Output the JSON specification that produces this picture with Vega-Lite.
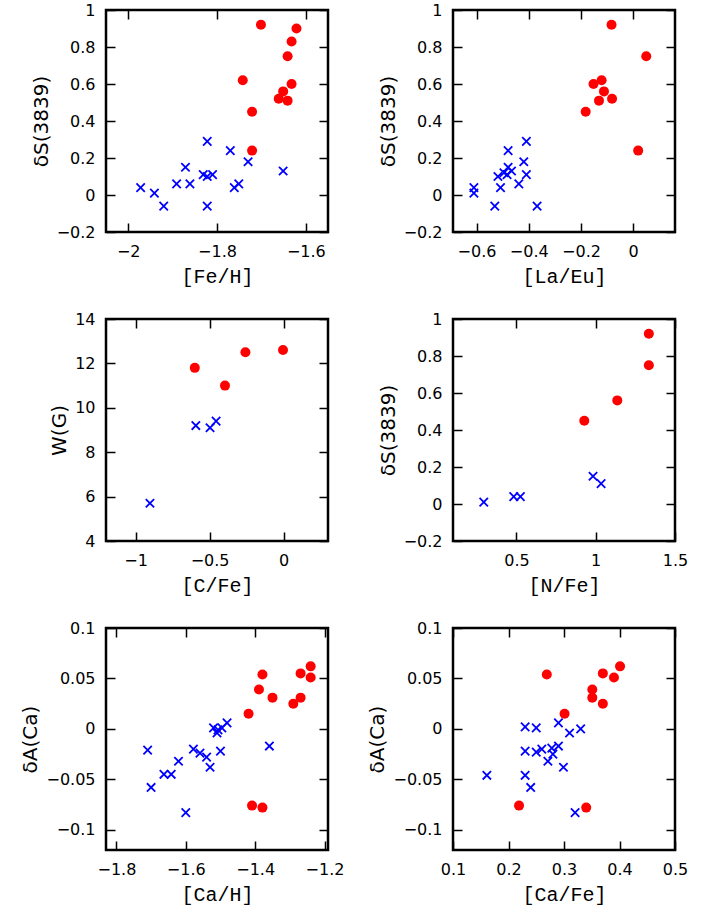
{
  "$schema": "https://vega.github.io/schema/vega-lite/v6.json",
  "background": "white",
  "padding": {"left": 19, "top": 0, "right": 5, "bottom": 2},
  "config": {
    "view": {"stroke": "black", "strokeWidth": 2.5},
    "axis": {
      "domain": false,
      "ticks": false,
      "grid": true,
      "gridColor": "black",
      "gridOpacity": 1,
      "gridWidth": 1.5,
      "labelFont": "DejaVu Sans",
      "labelFontSize": 16,
      "labelColor": "black",
      "labelFlush": false,
      "labelOverlap": false,
      "labelPadding": 11,
      "format": "~g",
      "titleColor": "black",
      "titleFontWeight": "normal",
      "titleFontSize": 20
    },
    "axisX": {"titleFont": "Liberation Mono", "titlePadding": 7},
    "axisY": {"titleFont": "DejaVu Sans", "titlePadding": 5}
  },
  "datasets": {
    "p1": [
      {"x": -1.701, "y": 0.92, "g": "r"}, {"x": -1.621, "y": 0.90, "g": "r"},
      {"x": -1.632, "y": 0.83, "g": "r"}, {"x": -1.641, "y": 0.75, "g": "r"},
      {"x": -1.632, "y": 0.60, "g": "r"}, {"x": -1.742, "y": 0.62, "g": "r"},
      {"x": -1.651, "y": 0.56, "g": "r"}, {"x": -1.661, "y": 0.52, "g": "r"},
      {"x": -1.641, "y": 0.51, "g": "r"}, {"x": -1.721, "y": 0.45, "g": "r"},
      {"x": -1.721, "y": 0.24, "g": "r"},
      {"x": -1.972, "y": 0.04, "g": "b"}, {"x": -1.941, "y": 0.01, "g": "b"},
      {"x": -1.920, "y": -0.06, "g": "b"}, {"x": -1.891, "y": 0.06, "g": "b"},
      {"x": -1.871, "y": 0.15, "g": "b"}, {"x": -1.861, "y": 0.06, "g": "b"},
      {"x": -1.831, "y": 0.11, "g": "b"}, {"x": -1.822, "y": 0.29, "g": "b"},
      {"x": -1.822, "y": 0.10, "g": "b"}, {"x": -1.810, "y": 0.11, "g": "b"},
      {"x": -1.822, "y": -0.06, "g": "b"}, {"x": -1.770, "y": 0.24, "g": "b"},
      {"x": -1.761, "y": 0.04, "g": "b"}, {"x": -1.751, "y": 0.06, "g": "b"},
      {"x": -1.730, "y": 0.18, "g": "b"}, {"x": -1.651, "y": 0.13, "g": "b"}
    ],
    "p2": [
      {"x": -0.083, "y": 0.92, "g": "r"}, {"x": 0.050, "y": 0.75, "g": "r"},
      {"x": -0.152, "y": 0.60, "g": "r"}, {"x": -0.121, "y": 0.62, "g": "r"},
      {"x": -0.112, "y": 0.56, "g": "r"}, {"x": -0.131, "y": 0.51, "g": "r"},
      {"x": -0.081, "y": 0.52, "g": "r"}, {"x": -0.182, "y": 0.45, "g": "r"},
      {"x": 0.019, "y": 0.24, "g": "r"},
      {"x": -0.610, "y": 0.04, "g": "b"}, {"x": -0.610, "y": 0.01, "g": "b"},
      {"x": -0.530, "y": -0.06, "g": "b"}, {"x": -0.518, "y": 0.10, "g": "b"},
      {"x": -0.508, "y": 0.04, "g": "b"}, {"x": -0.495, "y": 0.12, "g": "b"},
      {"x": -0.483, "y": 0.11, "g": "b"}, {"x": -0.479, "y": 0.24, "g": "b"},
      {"x": -0.479, "y": 0.15, "g": "b"}, {"x": -0.466, "y": 0.13, "g": "b"},
      {"x": -0.438, "y": 0.06, "g": "b"}, {"x": -0.419, "y": 0.18, "g": "b"},
      {"x": -0.409, "y": 0.29, "g": "b"}, {"x": -0.409, "y": 0.11, "g": "b"},
      {"x": -0.368, "y": -0.06, "g": "b"}
    ],
    "p3": [
      {"x": -0.600, "y": 11.8, "g": "r"}, {"x": -0.396, "y": 11.0, "g": "r"},
      {"x": -0.258, "y": 12.5, "g": "r"}, {"x": -0.004, "y": 12.6, "g": "r"},
      {"x": -0.903, "y": 5.7, "g": "b"}, {"x": -0.593, "y": 9.2, "g": "b"},
      {"x": -0.497, "y": 9.1, "g": "b"}, {"x": -0.456, "y": 9.4, "g": "b"}
    ],
    "p4": [
      {"x": 1.335, "y": 0.92, "g": "r"}, {"x": 1.335, "y": 0.75, "g": "r"},
      {"x": 1.136, "y": 0.56, "g": "r"}, {"x": 0.928, "y": 0.45, "g": "r"},
      {"x": 0.294, "y": 0.01, "g": "b"}, {"x": 0.483, "y": 0.04, "g": "b"},
      {"x": 0.525, "y": 0.04, "g": "b"}, {"x": 0.983, "y": 0.15, "g": "b"},
      {"x": 1.034, "y": 0.11, "g": "b"}
    ],
    "p5": [
      {"x": -1.419, "y": 0.015, "g": "r"}, {"x": -1.389, "y": 0.039, "g": "r"},
      {"x": -1.379, "y": 0.054, "g": "r"}, {"x": -1.350, "y": 0.031, "g": "r"},
      {"x": -1.290, "y": 0.025, "g": "r"}, {"x": -1.269, "y": 0.031, "g": "r"},
      {"x": -1.269, "y": 0.055, "g": "r"}, {"x": -1.240, "y": 0.062, "g": "r"},
      {"x": -1.240, "y": 0.051, "g": "r"}, {"x": -1.409, "y": -0.076, "g": "r"},
      {"x": -1.379, "y": -0.078, "g": "r"},
      {"x": -1.710, "y": -0.021, "g": "b"}, {"x": -1.700, "y": -0.058, "g": "b"},
      {"x": -1.663, "y": -0.045, "g": "b"}, {"x": -1.642, "y": -0.045, "g": "b"},
      {"x": -1.621, "y": -0.032, "g": "b"}, {"x": -1.600, "y": -0.083, "g": "b"},
      {"x": -1.578, "y": -0.020, "g": "b"}, {"x": -1.559, "y": -0.024, "g": "b"},
      {"x": -1.540, "y": -0.028, "g": "b"}, {"x": -1.530, "y": -0.038, "g": "b"},
      {"x": -1.520, "y": 0.001, "g": "b"}, {"x": -1.507, "y": -0.001, "g": "b"},
      {"x": -1.496, "y": 0.001, "g": "b"}, {"x": -1.481, "y": 0.006, "g": "b"},
      {"x": -1.510, "y": -0.004, "g": "b"}, {"x": -1.500, "y": -0.022, "g": "b"},
      {"x": -1.359, "y": -0.017, "g": "b"}
    ],
    "p6": [
      {"x": 0.269, "y": 0.054, "g": "r"}, {"x": 0.301, "y": 0.015, "g": "r"},
      {"x": 0.351, "y": 0.039, "g": "r"}, {"x": 0.351, "y": 0.031, "g": "r"},
      {"x": 0.370, "y": 0.055, "g": "r"}, {"x": 0.390, "y": 0.051, "g": "r"},
      {"x": 0.401, "y": 0.062, "g": "r"}, {"x": 0.370, "y": 0.025, "g": "r"},
      {"x": 0.219, "y": -0.076, "g": "r"}, {"x": 0.340, "y": -0.078, "g": "r"},
      {"x": 0.230, "y": 0.002, "g": "b"}, {"x": 0.250, "y": 0.001, "g": "b"},
      {"x": 0.290, "y": 0.006, "g": "b"}, {"x": 0.310, "y": -0.004, "g": "b"},
      {"x": 0.330, "y": 0.000, "g": "b"}, {"x": 0.230, "y": -0.022, "g": "b"},
      {"x": 0.250, "y": -0.023, "g": "b"}, {"x": 0.260, "y": -0.020, "g": "b"},
      {"x": 0.278, "y": -0.019, "g": "b"}, {"x": 0.290, "y": -0.017, "g": "b"},
      {"x": 0.280, "y": -0.025, "g": "b"}, {"x": 0.271, "y": -0.032, "g": "b"},
      {"x": 0.299, "y": -0.038, "g": "b"}, {"x": 0.230, "y": -0.046, "g": "b"},
      {"x": 0.161, "y": -0.046, "g": "b"}, {"x": 0.240, "y": -0.058, "g": "b"},
      {"x": 0.320, "y": -0.083, "g": "b"}
    ]
  },
  "columns": 2,
  "spacing": {"row": 87, "column": 125},
  "bounds": "flush",
  "concat": [
    {
      "width": 222, "height": 222,
      "data": {"name": "p1"},
      "resolve": {"axis": {"x": "independent", "y": "independent"}},
      "layer": [
        {
          "transform": [{"filter": "datum.g == 'r'"}],
          "mark": {"type": "point", "shape": "circle", "filled": true, "color": "#ff0000", "size": 100, "opacity": 1},
          "encoding": {
            "x": {"field": "x", "type": "quantitative", "scale": {"domain": [-2.05, -1.55], "nice": false, "zero": false},
              "axis": {"orient": "bottom", "title": "[Fe/H]", "gridDash": [9, 204], "values": [-2, -1.8, -1.6]}},
            "y": {"field": "y", "type": "quantitative", "scale": {"domain": [-0.2, 1], "nice": false, "zero": false},
              "axis": {"orient": "left", "title": "δS(3839)", "gridDash": [9, 204], "values": [-0.2, 0, 0.2, 0.4, 0.6, 0.8, 1]}}
          }
        },
        {
          "transform": [{"filter": "datum.g == 'b'"}],
          "mark": {"type": "point", "shape": "M-1,-1L1,1M1,-1L-1,1", "filled": false, "color": "#0000ff", "size": 70, "strokeWidth": 1.8, "opacity": 1},
          "encoding": {
            "x": {"field": "x", "type": "quantitative",
              "axis": {"orient": "bottom", "title": null, "labels": false, "gridDash": [5, 212], "values": [-2.05, -1.95, -1.9, -1.85, -1.75, -1.7, -1.65, -1.55]}},
            "y": {"field": "y", "type": "quantitative",
              "axis": {"orient": "left", "title": null, "labels": false, "gridDash": [5, 212], "values": [-0.15, -0.1, -0.05, 0.05, 0.1, 0.15, 0.25, 0.3, 0.35, 0.45, 0.5, 0.55, 0.65, 0.7, 0.75, 0.85, 0.9, 0.95]}}
          }
        }
      ]
    },
    {
      "width": 222, "height": 222,
      "data": {"name": "p2"},
      "resolve": {"axis": {"x": "independent", "y": "independent"}},
      "layer": [
        {
          "transform": [{"filter": "datum.g == 'r'"}],
          "mark": {"type": "point", "shape": "circle", "filled": true, "color": "#ff0000", "size": 100, "opacity": 1},
          "encoding": {
            "x": {"field": "x", "type": "quantitative", "scale": {"domain": [-0.69, 0.16], "nice": false, "zero": false},
              "axis": {"orient": "bottom", "title": "[La/Eu]", "gridDash": [9, 204], "values": [-0.6, -0.4, -0.2, 0]}},
            "y": {"field": "y", "type": "quantitative", "scale": {"domain": [-0.2, 1], "nice": false, "zero": false},
              "axis": {"orient": "left", "title": "δS(3839)", "gridDash": [9, 204], "values": [-0.2, 0, 0.2, 0.4, 0.6, 0.8, 1]}}
          }
        },
        {
          "transform": [{"filter": "datum.g == 'b'"}],
          "mark": {"type": "point", "shape": "M-1,-1L1,1M1,-1L-1,1", "filled": false, "color": "#0000ff", "size": 70, "strokeWidth": 1.8, "opacity": 1},
          "encoding": {
            "x": {"field": "x", "type": "quantitative",
              "axis": {"orient": "bottom", "title": null, "labels": false, "gridDash": [5, 212], "values": [-0.65, -0.55, -0.5, -0.45, -0.35, -0.3, -0.25, -0.15, -0.1, -0.05, 0.05, 0.1, 0.15]}},
            "y": {"field": "y", "type": "quantitative",
              "axis": {"orient": "left", "title": null, "labels": false, "gridDash": [5, 212], "values": [-0.15, -0.1, -0.05, 0.05, 0.1, 0.15, 0.25, 0.3, 0.35, 0.45, 0.5, 0.55, 0.65, 0.7, 0.75, 0.85, 0.9, 0.95]}}
          }
        }
      ]
    },
    {
      "width": 222, "height": 222,
      "data": {"name": "p3"},
      "resolve": {"axis": {"x": "independent", "y": "independent"}},
      "layer": [
        {
          "transform": [{"filter": "datum.g == 'r'"}],
          "mark": {"type": "point", "shape": "circle", "filled": true, "color": "#ff0000", "size": 100, "opacity": 1},
          "encoding": {
            "x": {"field": "x", "type": "quantitative", "scale": {"domain": [-1.2, 0.3], "nice": false, "zero": false},
              "axis": {"orient": "bottom", "title": "[C/Fe]", "gridDash": [9, 204], "values": [-1, -0.5, 0]}},
            "y": {"field": "y", "type": "quantitative", "scale": {"domain": [4, 14], "nice": false, "zero": false},
              "axis": {"orient": "left", "title": "W(G)", "gridDash": [9, 204], "values": [4, 6, 8, 10, 12, 14]}}
          }
        },
        {
          "transform": [{"filter": "datum.g == 'b'"}],
          "mark": {"type": "point", "shape": "M-1,-1L1,1M1,-1L-1,1", "filled": false, "color": "#0000ff", "size": 70, "strokeWidth": 1.8, "opacity": 1},
          "encoding": {
            "x": {"field": "x", "type": "quantitative",
              "axis": {"orient": "bottom", "title": null, "labels": false, "gridDash": [5, 212], "values": [-1.2, -1.1, -0.9, -0.8, -0.7, -0.6, -0.4, -0.3, -0.2, -0.1, 0.1, 0.2, 0.3]}},
            "y": {"field": "y", "type": "quantitative",
              "axis": {"orient": "left", "title": null, "labels": false, "gridDash": [5, 212], "values": [4.5, 5, 5.5, 6.5, 7, 7.5, 8.5, 9, 9.5, 10.5, 11, 11.5, 12.5, 13, 13.5]}}
          }
        }
      ]
    },
    {
      "width": 222, "height": 222,
      "data": {"name": "p4"},
      "resolve": {"axis": {"x": "independent", "y": "independent"}},
      "layer": [
        {
          "transform": [{"filter": "datum.g == 'r'"}],
          "mark": {"type": "point", "shape": "circle", "filled": true, "color": "#ff0000", "size": 100, "opacity": 1},
          "encoding": {
            "x": {"field": "x", "type": "quantitative", "scale": {"domain": [0.1, 1.5], "nice": false, "zero": false},
              "axis": {"orient": "bottom", "title": "[N/Fe]", "gridDash": [9, 204], "values": [0.5, 1, 1.5]}},
            "y": {"field": "y", "type": "quantitative", "scale": {"domain": [-0.2, 1], "nice": false, "zero": false},
              "axis": {"orient": "left", "title": "δS(3839)", "gridDash": [9, 204], "values": [-0.2, 0, 0.2, 0.4, 0.6, 0.8, 1]}}
          }
        },
        {
          "transform": [{"filter": "datum.g == 'b'"}],
          "mark": {"type": "point", "shape": "M-1,-1L1,1M1,-1L-1,1", "filled": false, "color": "#0000ff", "size": 70, "strokeWidth": 1.8, "opacity": 1},
          "encoding": {
            "x": {"field": "x", "type": "quantitative",
              "axis": {"orient": "bottom", "title": null, "labels": false, "gridDash": [5, 212], "values": [0.1, 0.2, 0.3, 0.4, 0.6, 0.7, 0.8, 0.9, 1.1, 1.2, 1.3, 1.4]}},
            "y": {"field": "y", "type": "quantitative",
              "axis": {"orient": "left", "title": null, "labels": false, "gridDash": [5, 212], "values": [-0.15, -0.1, -0.05, 0.05, 0.1, 0.15, 0.25, 0.3, 0.35, 0.45, 0.5, 0.55, 0.65, 0.7, 0.75, 0.85, 0.9, 0.95]}}
          }
        }
      ]
    },
    {
      "width": 222, "height": 222,
      "data": {"name": "p5"},
      "resolve": {"axis": {"x": "independent", "y": "independent"}},
      "layer": [
        {
          "transform": [{"filter": "datum.g == 'r'"}],
          "mark": {"type": "point", "shape": "circle", "filled": true, "color": "#ff0000", "size": 100, "opacity": 1},
          "encoding": {
            "x": {"field": "x", "type": "quantitative", "scale": {"domain": [-1.83, -1.19], "nice": false, "zero": false},
              "axis": {"orient": "bottom", "title": "[Ca/H]", "gridDash": [9, 204], "values": [-1.8, -1.6, -1.4, -1.2]}},
            "y": {"field": "y", "type": "quantitative", "scale": {"domain": [-0.12, 0.1], "nice": false, "zero": false},
              "axis": {"orient": "left", "title": "δA(Ca)", "gridDash": [9, 204], "values": [-0.1, -0.05, 0, 0.05, 0.1]}}
          }
        },
        {
          "transform": [{"filter": "datum.g == 'b'"}],
          "mark": {"type": "point", "shape": "M-1,-1L1,1M1,-1L-1,1", "filled": false, "color": "#0000ff", "size": 70, "strokeWidth": 1.8, "opacity": 1},
          "encoding": {
            "x": {"field": "x", "type": "quantitative",
              "axis": {"orient": "bottom", "title": null, "labels": false, "gridDash": [5, 212], "values": [-1.75, -1.7, -1.65, -1.55, -1.5, -1.45, -1.35, -1.3, -1.25]}},
            "y": {"field": "y", "type": "quantitative",
              "axis": {"orient": "left", "title": null, "labels": false, "gridDash": [5, 212], "values": [-0.12, -0.11, -0.09, -0.08, -0.07, -0.06, -0.04, -0.03, -0.02, -0.01, 0.01, 0.02, 0.03, 0.04, 0.06, 0.07, 0.08, 0.09]}}
          }
        }
      ]
    },
    {
      "width": 222, "height": 222,
      "data": {"name": "p6"},
      "resolve": {"axis": {"x": "independent", "y": "independent"}},
      "layer": [
        {
          "transform": [{"filter": "datum.g == 'r'"}],
          "mark": {"type": "point", "shape": "circle", "filled": true, "color": "#ff0000", "size": 100, "opacity": 1},
          "encoding": {
            "x": {"field": "x", "type": "quantitative", "scale": {"domain": [0.1, 0.5], "nice": false, "zero": false},
              "axis": {"orient": "bottom", "title": "[Ca/Fe]", "gridDash": [9, 204], "values": [0.1, 0.2, 0.3, 0.4, 0.5]}},
            "y": {"field": "y", "type": "quantitative", "scale": {"domain": [-0.12, 0.1], "nice": false, "zero": false},
              "axis": {"orient": "left", "title": "δA(Ca)", "gridDash": [9, 204], "values": [-0.1, -0.05, 0, 0.05, 0.1]}}
          }
        },
        {
          "transform": [{"filter": "datum.g == 'b'"}],
          "mark": {"type": "point", "shape": "M-1,-1L1,1M1,-1L-1,1", "filled": false, "color": "#0000ff", "size": 70, "strokeWidth": 1.8, "opacity": 1},
          "encoding": {
            "x": {"field": "x", "type": "quantitative",
              "axis": {"orient": "bottom", "title": null, "labels": false, "gridDash": [5, 212], "values": [0.12, 0.14, 0.16, 0.18, 0.22, 0.24, 0.26, 0.28, 0.32, 0.34, 0.36, 0.38, 0.42, 0.44, 0.46, 0.48]}},
            "y": {"field": "y", "type": "quantitative",
              "axis": {"orient": "left", "title": null, "labels": false, "gridDash": [5, 212], "values": [-0.12, -0.11, -0.09, -0.08, -0.07, -0.06, -0.04, -0.03, -0.02, -0.01, 0.01, 0.02, 0.03, 0.04, 0.06, 0.07, 0.08, 0.09]}}
          }
        }
      ]
    }
  ]
}
